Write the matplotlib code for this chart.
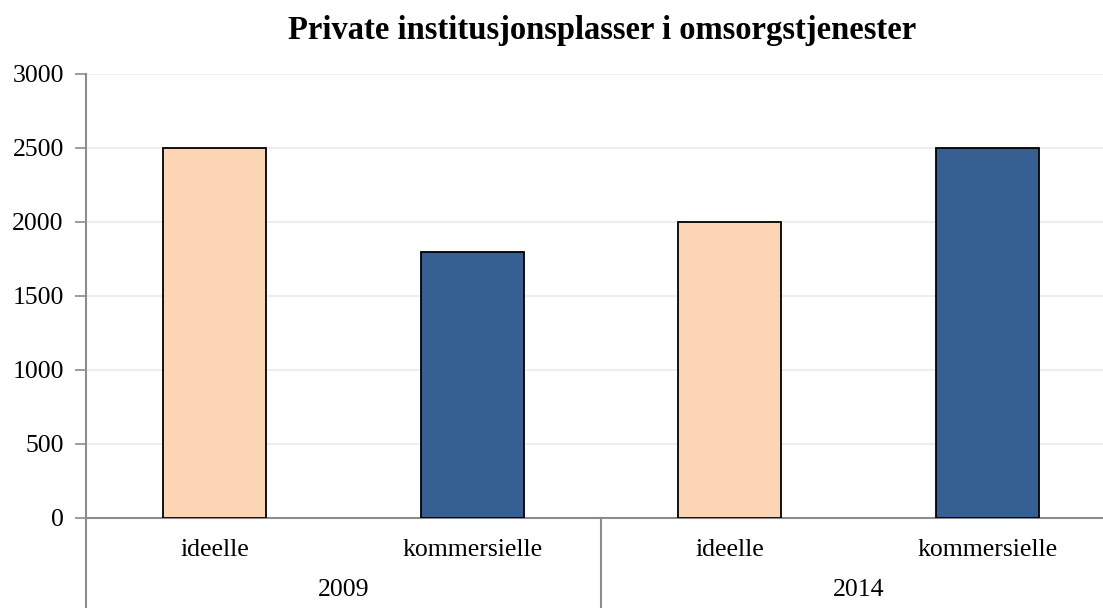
import matplotlib
matplotlib.use("Agg")
import matplotlib.pyplot as plt
from matplotlib.lines import Line2D

years = ["2009", "2014"]
types = ["ideelle", "kommersielle"]
values = [2500, 1800, 2000, 2500]
colors_by_type = {"ideelle": "#FCD5B5", "kommersielle": "#366092"}
title = "Private institusjonsplasser i omsorgstjenester"

plt.rcParams['font.family'] = ['Liberation Serif', 'DejaVu Serif']

W, H = 1103, 608
fig = plt.figure(figsize=(W/100, H/100), dpi=100)
left, right, bottom, top = 86, 1116, 608-518, 608-74
ax = fig.add_axes([left/W, bottom/H, (right-left)/W, (top-bottom)/H])

labels = [t for y in years for t in types]
xs = list(range(len(values)))
ax.bar(xs, values, width=0.4, color=[colors_by_type[t] for t in labels],
       edgecolor="black", linewidth=1.3, zorder=3)

ax.set_xlim(-0.5, len(values) - 0.5)
ax.set_ylim(0, 3000)
ax.set_yticks(range(0, 3001, 500))
ax.yaxis.grid(True, color="#EBEBEB", linewidth=1.2, zorder=0)
ax.set_axisbelow(True)
ax.set_xticks([])
ax.tick_params(axis='y', direction='out', length=8, color="#8C8C8C", width=1.2,
               labelsize=18.5, pad=8)
for s in ["top", "right"]:
    ax.spines[s].set_visible(False)
for s in ["left", "bottom"]:
    ax.spines[s].set_color("#8C8C8C")
    ax.spines[s].set_linewidth(1.5)

ah = top - bottom
# category labels
for x, lab in zip(xs, labels):
    ax.text(x, -32/ah, lab, transform=ax.get_xaxis_transform(), ha="center",
            va="center", fontsize=18.5)
# year labels and separators
n = len(types)
for i, y in enumerate(years):
    ax.text(i*n + (n-1)/2, -72/ah, y, transform=ax.get_xaxis_transform(),
            ha="center", va="center", fontsize=18.5)
for i in range(len(years)):
    xsep = i*n - 0.5
    ax.add_line(Line2D([xsep, xsep], [0, -100/ah], transform=ax.get_xaxis_transform(),
                       color="#8C8C8C", linewidth=1.5, clip_on=False))

fig.text(602/W, 1 - 31/H, title, ha="center", va="center", fontsize=23.5,
         fontweight="bold")

fig.savefig("out.png", dpi=100)
